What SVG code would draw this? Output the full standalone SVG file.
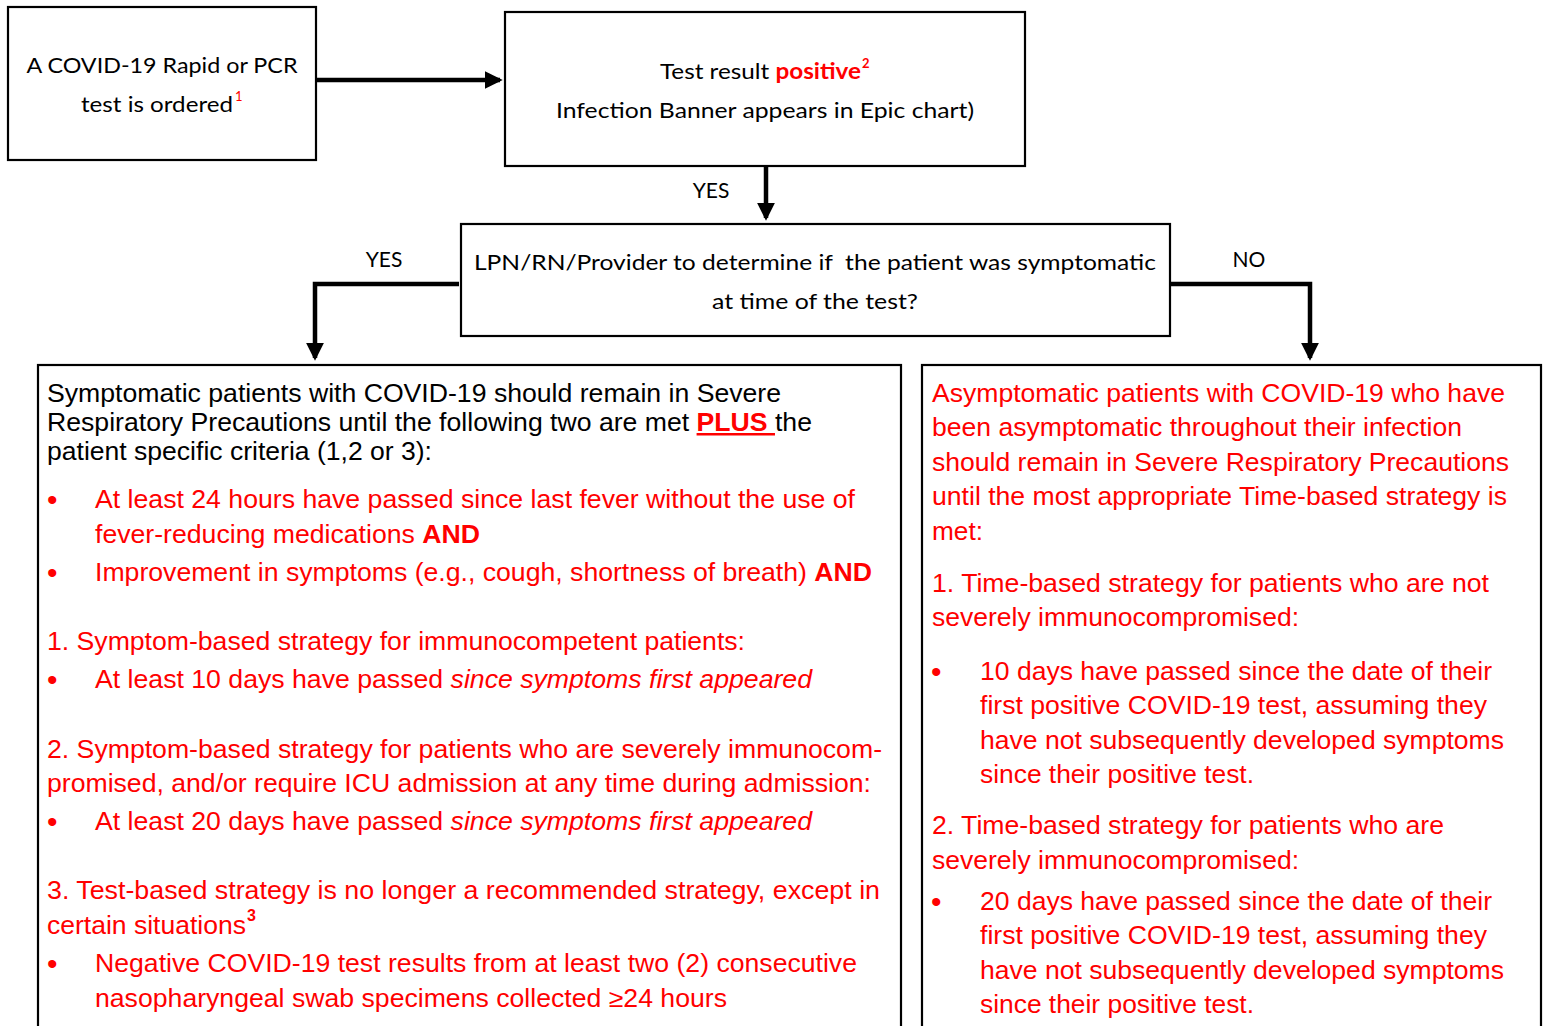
<svg xmlns="http://www.w3.org/2000/svg" width="1546" height="1026" viewBox="0 0 1546 1026">
<style>
.box{fill:#fff;stroke:#000;stroke-width:2.2}
.conn{fill:none;stroke:#000;stroke-width:4.5}
.cal{font-family:Lato,"Open Sans","Liberation Sans",sans-serif;font-size:22px;fill:#000}
.lbl{font-family:Lato,"Open Sans","Liberation Sans",sans-serif;font-size:21px;fill:#000}
.ar{font-family:"Liberation Sans",Arial,sans-serif;font-size:25px;fill:#ff0000}
.bul{font-family:"Liberation Sans",Arial,sans-serif;font-size:30px;fill:#ff0000}
.sup{font-size:13px}
.sup3{font-size:16px}
.blk{fill:#000}
.b{font-weight:bold}
.i{font-style:italic}
.red{fill:#ff0000}
</style>
<defs>
<marker id="ah" markerWidth="4" markerHeight="4" refX="3.4" refY="2" orient="auto" markerUnits="strokeWidth">
<path d="M0,0 L4,2 L0,4 z" fill="#000"/>
</marker>
</defs>
<g id="connectors">
<line class="conn" x1="316" y1="80" x2="500" y2="80" marker-end="url(#ah)"/>
<line class="conn" x1="766" y1="166" x2="766" y2="218" marker-end="url(#ah)"/>
<polyline class="conn" points="459,284 315,284 315,358" marker-end="url(#ah)"/>
<polyline class="conn" points="1171,284 1310,284 1310,358" marker-end="url(#ah)"/>
<text class="lbl" x="711" y="198" text-anchor="middle">YES</text>
<text class="lbl" x="384" y="267" text-anchor="middle">YES</text>
<text class="lbl" x="1249" y="267" text-anchor="middle">NO</text>
</g>
<g id="node-order">
<rect class="box" x="8" y="7" width="308" height="153"/>
<text class="cal" x="162" y="73" text-anchor="middle" textLength="271" lengthAdjust="spacingAndGlyphs">A COVID-19 Rapid or PCR</text>
<text class="cal" x="81" y="112" textLength="152" lengthAdjust="spacingAndGlyphs">test is ordered</text>
<text class="cal red sup" x="235" y="101">1</text>
</g>
<g id="node-positive">
<rect class="box" x="505" y="12" width="520" height="154"/>
<text class="cal" x="660" y="79" textLength="201" lengthAdjust="spacingAndGlyphs">Test result <tspan class="b red">positive</tspan></text>
<text class="cal b red sup" x="862" y="68">2</text>
<text class="cal" x="765" y="118" text-anchor="middle" textLength="418" lengthAdjust="spacingAndGlyphs">Infection Banner appears in Epic chart)</text>
</g>
<g id="node-determine">
<rect class="box" x="461" y="224" width="709" height="112"/>
<text class="cal" x="474" y="270" textLength="682" lengthAdjust="spacingAndGlyphs" xml:space="preserve">LPN/RN/Provider to determine if  the patient was symptomatic</text>
<text class="cal" x="815" y="309" text-anchor="middle" textLength="206" lengthAdjust="spacingAndGlyphs">at time of the test?</text>
</g>
<g id="node-symptomatic">
<rect class="box" x="38" y="365" width="863" height="670"/>
<text class="ar blk" x="47" y="402" textLength="734" lengthAdjust="spacingAndGlyphs">Symptomatic patients with COVID-19 should remain in Severe</text>
<text class="ar blk" x="47" y="431" textLength="765" lengthAdjust="spacingAndGlyphs" xml:space="preserve">Respiratory Precautions until the following two are met <tspan class="b red" text-decoration="underline">PLUS </tspan>the</text>
<text class="ar blk" x="47" y="460" textLength="385" lengthAdjust="spacingAndGlyphs">patient specific criteria (1,2 or 3):</text>
<text class="bul" x="47" y="510">•</text>
<text class="ar" x="95" y="508" textLength="760" lengthAdjust="spacingAndGlyphs">At least 24 hours have passed since last fever without the use of</text>
<text class="ar" x="95" y="543" textLength="385" lengthAdjust="spacingAndGlyphs">fever-reducing medications <tspan class="b">AND</tspan></text>
<text class="bul" x="47" y="583">•</text>
<text class="ar" x="95" y="581" textLength="777" lengthAdjust="spacingAndGlyphs">Improvement in symptoms (e.g., cough, shortness of breath) <tspan class="b">AND</tspan></text>
<text class="ar" x="47" y="650" textLength="698" lengthAdjust="spacingAndGlyphs">1. Symptom-based strategy for immunocompetent patients:</text>
<text class="bul" x="47" y="690">•</text>
<text class="ar" x="95" y="688" textLength="717" lengthAdjust="spacingAndGlyphs">At least 10 days have passed <tspan class="i">since symptoms first appeared</tspan></text>
<text class="ar" x="47" y="758" textLength="835" lengthAdjust="spacingAndGlyphs">2. Symptom-based strategy for patients who are severely immunocom-</text>
<text class="ar" x="47" y="792" textLength="824" lengthAdjust="spacingAndGlyphs">promised, and/or require ICU admission at any time during admission:</text>
<text class="bul" x="47" y="832">•</text>
<text class="ar" x="95" y="830" textLength="717" lengthAdjust="spacingAndGlyphs">At least 20 days have passed <tspan class="i">since symptoms first appeared</tspan></text>
<text class="ar" x="47" y="899" textLength="833" lengthAdjust="spacingAndGlyphs">3. Test-based strategy is no longer a recommended strategy, except in</text>
<text class="ar" x="47" y="934" textLength="199" lengthAdjust="spacingAndGlyphs">certain situations</text>
<text class="ar b sup3" x="247" y="921">3</text>
<text class="bul" x="47" y="974">•</text>
<text class="ar" x="95" y="972" textLength="762" lengthAdjust="spacingAndGlyphs">Negative COVID-19 test results from at least two (2) consecutive</text>
<text class="ar" x="95" y="1007" textLength="632" lengthAdjust="spacingAndGlyphs">nasopharyngeal swab specimens collected ≥24 hours</text>
</g>
<g id="node-asymptomatic">
<rect class="box" x="922" y="365" width="619" height="670"/>
<text class="ar" x="932" y="402" textLength="573" lengthAdjust="spacingAndGlyphs">Asymptomatic patients with COVID-19 who have</text>
<text class="ar" x="932" y="436" textLength="530" lengthAdjust="spacingAndGlyphs">been asymptomatic throughout their infection</text>
<text class="ar" x="932" y="471" textLength="577" lengthAdjust="spacingAndGlyphs">should remain in Severe Respiratory Precautions</text>
<text class="ar" x="932" y="505" textLength="575" lengthAdjust="spacingAndGlyphs">until the most appropriate Time-based strategy is</text>
<text class="ar" x="932" y="540" textLength="51" lengthAdjust="spacingAndGlyphs">met:</text>
<text class="ar" x="932" y="592" textLength="557" lengthAdjust="spacingAndGlyphs">1. Time-based strategy for patients who are not</text>
<text class="ar" x="932" y="626" textLength="367" lengthAdjust="spacingAndGlyphs">severely immunocompromised:</text>
<text class="bul" x="931" y="682">•</text>
<text class="ar" x="980" y="680" textLength="512" lengthAdjust="spacingAndGlyphs">10 days have passed since the date of their</text>
<text class="ar" x="980" y="714" textLength="507" lengthAdjust="spacingAndGlyphs">first positive COVID-19 test, assuming they</text>
<text class="ar" x="980" y="749" textLength="524" lengthAdjust="spacingAndGlyphs">have not subsequently developed symptoms</text>
<text class="ar" x="980" y="783" textLength="274" lengthAdjust="spacingAndGlyphs">since their positive test.</text>
<text class="ar" x="932" y="834" textLength="512" lengthAdjust="spacingAndGlyphs">2. Time-based strategy for patients who are</text>
<text class="ar" x="932" y="869" textLength="367" lengthAdjust="spacingAndGlyphs">severely immunocompromised:</text>
<text class="bul" x="931" y="912">•</text>
<text class="ar" x="980" y="910" textLength="512" lengthAdjust="spacingAndGlyphs">20 days have passed since the date of their</text>
<text class="ar" x="980" y="944" textLength="507" lengthAdjust="spacingAndGlyphs">first positive COVID-19 test, assuming they</text>
<text class="ar" x="980" y="979" textLength="524" lengthAdjust="spacingAndGlyphs">have not subsequently developed symptoms</text>
<text class="ar" x="980" y="1013" textLength="274" lengthAdjust="spacingAndGlyphs">since their positive test.</text>
</g>
</svg>
